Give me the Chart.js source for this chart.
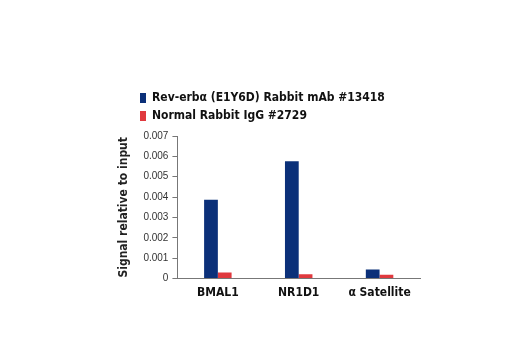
<!DOCTYPE html>
<html>
<head>
<meta charset="utf-8">
<script src="https://cdn.jsdelivr.net/npm/chart.js@4.4.1/dist/chart.umd.min.js"></script>
<style>
  html, body { margin:0; padding:0; background:#fff; }
  #wrap { width:520px; height:350px; }
</style>
</head>
<body>
<div id="wrap"><canvas id="chipChart" width="520" height="350"></canvas></div>
<script>
// values
const categories = ["BMAL1", "NR1D1", "\u03B1 Satellite"];
const revErbValues = [0.00387, 0.00576, 0.00045];
const igGValues = [0.00030, 0.00021, 0.00019];
const seriesNames = ["Rev-erb\u03B1 (E1Y6D) Rabbit mAb #13418", "Normal Rabbit IgG #2729"];
const yTicks = [0, 0.001, 0.002, 0.003, 0.004, 0.005, 0.006, 0.007];

const narrow = "'DejaVu Sans Condensed', 'Liberation Sans Narrow', Arial, sans-serif";
const plain = "'Liberation Sans', Arial, sans-serif";

// legend sits indented from the canvas edge in the original
const legendShift = {
  id: "legendShift",
  afterLayout(chart){
    const lg = chart.legend;
    if(!lg) return;
    lg.left += 17; lg.right += 17;
    lg.top -= 4; lg.bottom -= 4;
  }
};

const ctx = document.getElementById("chipChart").getContext("2d");
new Chart(ctx, {
  type: "bar",
  data: {
    labels: categories,
    datasets: [
      { label: seriesNames[0], data: revErbValues, backgroundColor: "#0b3079" },
      { label: seriesNames[1], data: igGValues, backgroundColor: "#e0393e" }
    ]
  },
  options: {
    responsive: false,
    animation: false,
    datasets: { bar: { categoryPercentage: 0.34, barPercentage: 1.0 } },
    layout: { padding: { left: 117, right: 100, top: 90, bottom: 43 } },
    plugins: {
      legend: {
        position: "top",
        align: "start",
        labels: {
          boxWidth: 6, boxHeight: 10, padding: 6,
          color: "#111",
          font: { family: narrow, size: 12, weight: "bold" }
        }
      },
      tooltip: { enabled: false }
    },
    scales: {
      x: {
        grid: { display: false, drawTicks: false, tickLength: 0 },
        border: { display: true, color: "#777", width: 1 },
        ticks: { color: "#111", padding: 7, font: { family: narrow, size: 12, weight: "bold" } }
      },
      y: {
        min: 0, max: 0.007,
        afterBuildTicks(scale){ scale.ticks = yTicks.map(v => ({ value: v })); },
        grid: { display: true, drawOnChartArea: false, drawTicks: true, tickLength: 5, color: "#777" },
        border: { display: true, color: "#777", width: 1 },
        ticks: {
          color: "#333", padding: 4,
          font: { family: plain, size: 10 },
          callback: v => v === 0 ? "0" : v.toFixed(3)
        },
        title: {
          display: true, text: "Signal relative to input", color: "#222", padding: { top: 0, bottom: 8 },
          font: { family: narrow, size: 12, weight: "bold" }
        }
      }
    }
  },
  plugins: [legendShift]
});
</script>
</body>
</html>
